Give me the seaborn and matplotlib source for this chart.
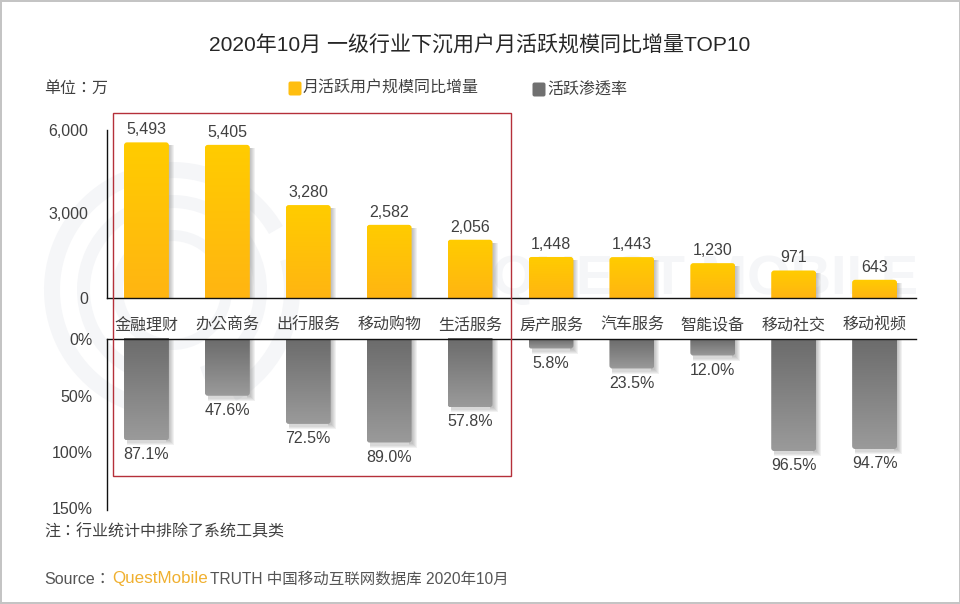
import numpy as np
import matplotlib
matplotlib.use('Agg')
import matplotlib.pyplot as plt
import seaborn as sns
from matplotlib.patches import FancyBboxPatch, Rectangle, Wedge
from matplotlib.transforms import IdentityTransform, ScaledTranslation

categories = ['金融理财', '办公商务', '出行服务', '移动购物', '生活服务',
              '房产服务', '汽车服务', '智能设备', '移动社交', '移动视频']
users = [5493, 5405, 3280, 2582, 2056, 1448, 1443, 1230, 971, 643]
penetration = [87.1, 47.6, 72.5, 89.0, 57.8, 5.8, 23.5, 12.0, 96.5, 94.7]
user_ticks = [0, 3000, 6000]
pen_ticks = [0, 50, 100, 150]

W, H = 960, 604
TEXT = '#404040'
CJK = ['Liberation Sans', 'Noto Sans CJK TC', 'DejaVu Sans']

sns.set_theme(style='white')
plt.rcParams['font.family'] = CJK
plt.rcParams['text.color'] = TEXT


def px(n):
    return n * 72 / 100


def rect(x0, y0, x1, y1):
    return [x0 / W, 1 - y1 / H, (x1 - x0) / W, (y1 - y0) / H]


def gradient_bars(fig, ax, c_top, c_bottom, up, lead=0):
    """swap the flat bars for rounded gradient ones with a soft shadow"""
    fig.canvas.draw()
    cmap = matplotlib.colors.LinearSegmentedColormap.from_list('g', [c_top, c_bottom])
    grad = np.linspace(0, 1, 64).reshape(-1, 1)
    for bar in ax.containers[0]:
        bar.set_alpha(0)
        x0, x1 = bar.get_x(), bar.get_x() + bar.get_width()
        (dx0, dya), (dx1, dyb) = ax.transData.transform(
            [(x0, bar.get_y()), (x1, bar.get_y() + bar.get_height())])
        dy0, dy1 = min(dya, dyb), max(dya, dyb)
        if not up:
            dy1 += lead * 1.13
        # shadow falls to the right and down only
        for e in range(1, 6):
            if up:
                sy0, sy1 = dy0, dy1 - 3
            else:
                sy0, sy1 = dy0 - e, dy1
            ax.add_patch(Rectangle((dx1 - 3, sy0), 3 + e, sy1 - sy0,
                                   transform=IdentityTransform(), fc='#666666', ec='none',
                                   alpha=0.09, zorder=1.5, clip_on=False))
            if not up:
                ax.add_patch(Rectangle((dx0 + 3, dy0 - e), dx1 - dx0 - 6, 3,
                                       transform=IdentityTransform(), fc='#666666', ec='none',
                                       alpha=0.09, zorder=1.5, clip_on=False))
        # rounded clip runs past the baseline so only the far end looks round
        ext = 8
        cy0, cy1 = (dy0 - ext, dy1) if up else (dy0, dy1 + ext)
        clip = FancyBboxPatch((dx0 + 2, cy0 + 2), dx1 - dx0 - 4, cy1 - cy0 - 4,
                              boxstyle='round,pad=2,rounding_size=3',
                              transform=IdentityTransform(), fc='none', ec='none')
        ax.add_patch(clip)
        y_top, y_bot = ((bar.get_height(), 0) if up else (-lead, bar.get_height()))
        im = ax.imshow(grad, extent=(x0, x1, y_bot, y_top), origin='upper',
                       cmap=cmap, aspect='auto', zorder=2)
        im.set_clip_path(clip)
        im.set_clip_box(fig.bbox)


fig = plt.figure(figsize=(W / 100, H / 100), dpi=100, facecolor='white')

# watermark layer, in picture pixels
bg = fig.add_axes([0, 0, 1, 1], zorder=-1)
bg.set_xlim(0, W)
bg.set_ylim(H, 0)
bg.axis('off')
WM = '#f5f6f8'
for r, w, a0, a1 in [(128, 16, 100, 330), (128, 16, 345, 60), (95, 13, 110, 300), (95, 13, 320, 70), (60, 11, 0, 360)]:
    bg.add_patch(Wedge((172, 290), r, a0, a1, width=w, fc=WM, ec='none'))
bg.text(918, 280, 'QUEST MOBILE', ha='right', va='center', fontsize=px(56),
        fontweight='bold', color=WM, family='Liberation Sans')

# top panel, monthly active users
ax1 = fig.add_axes(rect(106.5, 128, 916, 298), zorder=1)
ax1.patch.set_alpha(0)
sns.barplot(x=categories, y=users, ax=ax1, color='#ffc107', width=0.555, saturation=1)
ax1.set_xlim(-0.494, 9.512)
ax1.set_ylim(0, 6000)
ax1.set_yticks(user_ticks)
ax1.set_yticklabels([f'{v:,}' for v in user_ticks], fontsize=px(16), color=TEXT)
ax1.tick_params(axis='y', length=0, pad=px(18))
ax1.set_xticks(range(len(categories)))
ax1.set_xticklabels(categories, fontsize=px(16), color=TEXT)
ax1.tick_params(axis='x', length=0, pad=px(20))
ax1.set_xlabel('')
ax1.bar_label(ax1.containers[0], labels=[f'{v:,}' for v in users], padding=px(5),
              fontsize=px(16), color=TEXT)
down = ScaledTranslation(0, -2 / 100, fig.dpi_scale_trans)
label_top = ax1.get_yticklabels()[-1]
label_top.set_transform(label_top.get_transform() + down)

# bottom panel, penetration rate, grows downwards
ax2 = fig.add_axes(rect(106.5, 342, 916, 511.5), zorder=1)
ax2.patch.set_alpha(0)
sns.barplot(x=categories, y=penetration, ax=ax2, color='#808080', width=0.555, saturation=1)
ax2.set_xlim(-0.494, 9.512)
ax2.set_ylim(150, 0)
ax2.set_yticks(pen_ticks)
ax2.set_yticklabels([f'{v}%' for v in pen_ticks], fontsize=px(16), color=TEXT)
ax2.tick_params(axis='y', length=0, pad=px(14))
ax2.set_xticks([])
ax2.set_xlabel('')
ax2.bar_label(ax2.containers[0], labels=[f'{v:.1f}%' for v in penetration], padding=px(7),
              fontsize=px(16), color=TEXT)
# axis line and tick labels sit a little above the true zero, as in the source chart
shift = ScaledTranslation(0, 3 / 100, fig.dpi_scale_trans)
for label in ax2.get_yticklabels():
    label.set_transform(label.get_transform() + shift)

for ax, pos in [(ax1, 'bottom'), (ax2, 'top')]:
    for side in ax.spines:
        ax.spines[side].set_visible(side in ('left', pos))
        ax.spines[side].set_color('#111111')
        ax.spines[side].set_linewidth(1)
ax1.spines['left'].set_bounds(0, 5930)
ax2.spines['top'].set_position(('outward', px(3)))
ax2.spines['left'].set_bounds(-2.6, 149)

gradient_bars(fig, ax1, '#ffcc00', '#ffb512', True)
gradient_bars(fig, ax2, '#6c6c6c', '#9a9a9a', False, lead=2.6)
ax1.set_xlim(-0.494, 9.512)
ax1.set_ylim(0, 6000)
ax2.set_xlim(-0.494, 9.512)
ax2.set_ylim(150, 0)

# overlay for highlight box, legend and captions
top = fig.add_axes([0, 0, 1, 1], zorder=5)
top.set_xlim(0, W)
top.set_ylim(H, 0)
top.axis('off')
top.add_patch(Rectangle((112.5, 112.5), 398, 363, fc='none', ec='#b5303a', lw=1))
for x0, x1, y0, y1 in [(0, 2, 0, H), (958.5, W, 0, H), (0, W, 0, 1.5), (0, W, 602, H)]:
    top.add_patch(Rectangle((x0, y0), x1 - x0, y1 - y0, fc='#c4c4c4', ec='none'))

top.add_patch(FancyBboxPatch((290, 83), 10, 11, boxstyle='round,pad=1.5,rounding_size=2',
                             fc='#ffbe0f', ec='none'))
top.add_patch(FancyBboxPatch((534, 84), 10, 11, boxstyle='round,pad=1.5,rounding_size=2',
                             fc='#707070', ec='none'))
top.text(303, 87, '月活跃用户规模同比增量', fontsize=px(16), va='center', color=TEXT)
top.text(547, 89, '活跃渗透率', fontsize=px(16), va='center', color=TEXT)
top.text(480, 45, '2020年10月 一级行业下沉用户月活跃规模同比增量TOP10', fontsize=px(21),
         ha='center', va='center', color='#262626')
top.text(44, 88, '单位：万', fontsize=px(16), va='center', color=TEXT)
top.text(44, 532, '注：行业统计中排除了系统工具类', fontsize=px(16), va='center', color=TEXT)
top.text(44, 579, 'Source：', fontsize=px(16), va='center', color='#555555')
top.text(112, 579, 'QuestMobile', fontsize=px(17), va='center', color='#f0b030')
top.text(210, 579, 'TRUTH 中国移动互联网数据库 2020年10月', fontsize=px(15.5), va='center', color='#555555')

fig.savefig('out.png', dpi=100, facecolor='white')
